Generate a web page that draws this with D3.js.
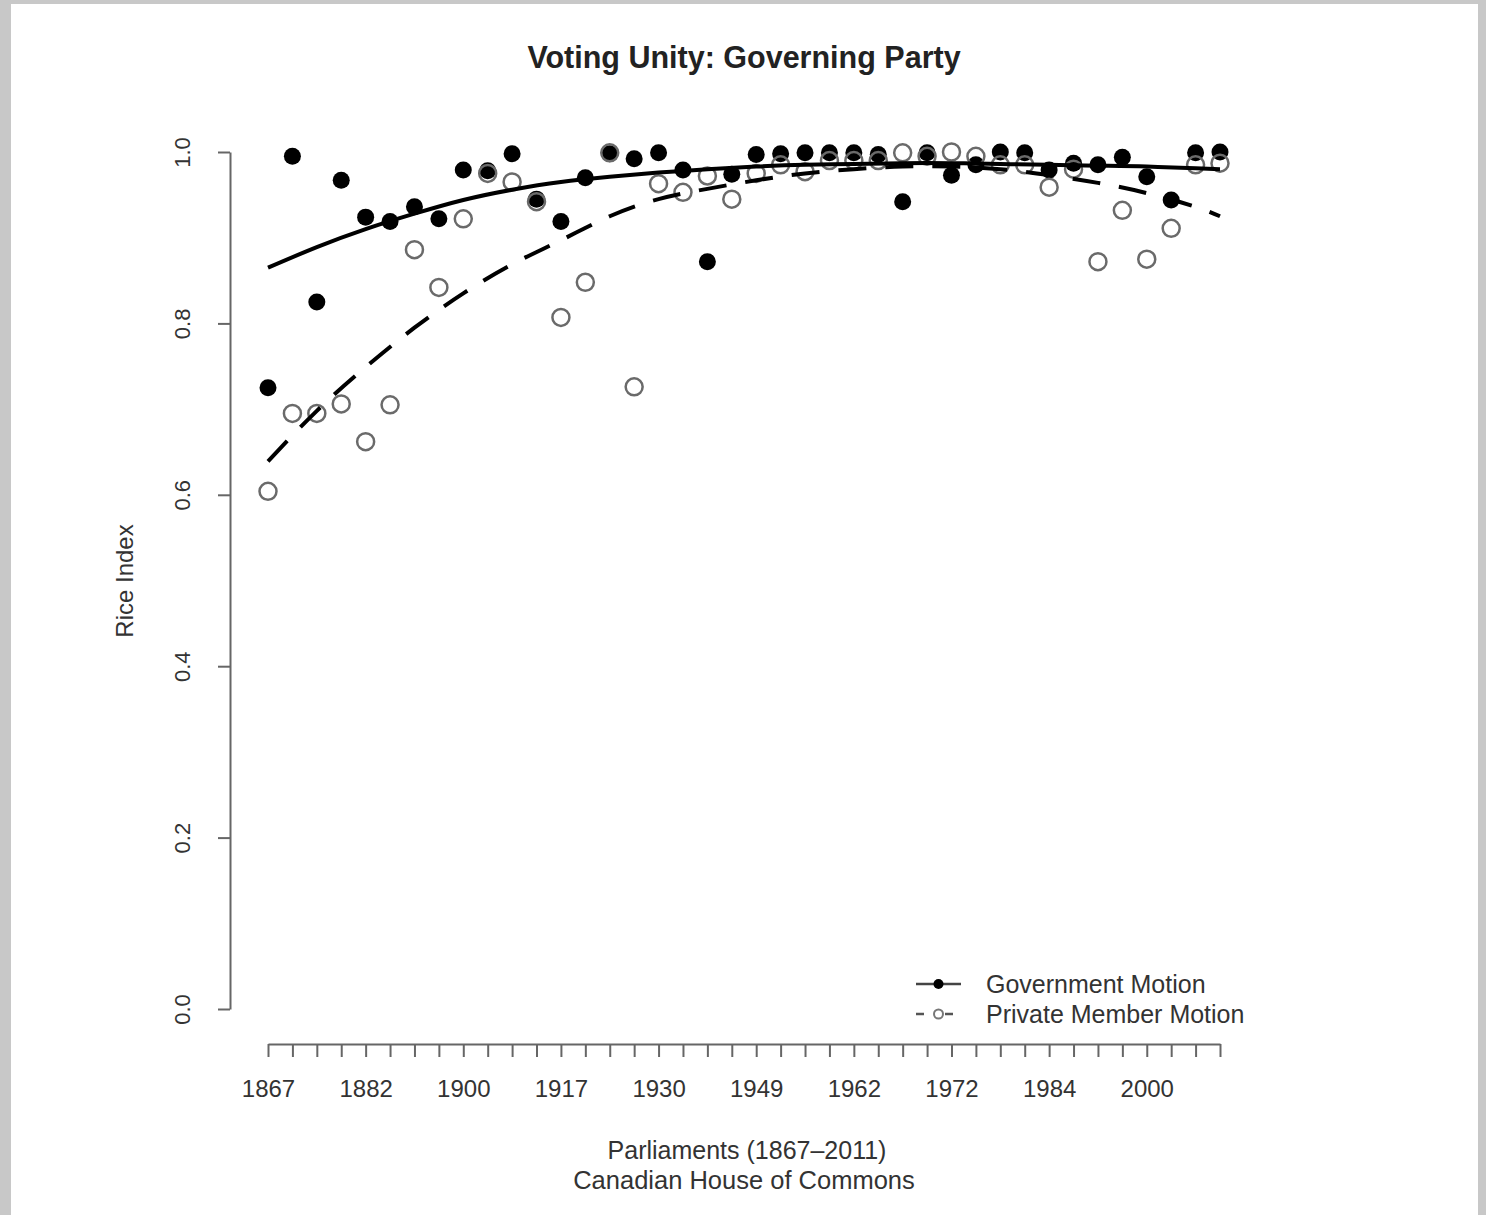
<!DOCTYPE html>
<html>
<head>
<meta charset="utf-8">
<script src="https://cdn.jsdelivr.net/npm/d3@7"></script>
<style>
  body { margin: 0; background: #c8c8c8; }
  svg { display: block; font-family: "Liberation Sans", Arial, sans-serif; }
</style>
</head>
<body>
<svg width="1486" height="1215"></svg>
<script>
// parliaments 1..40, labelled every 4th
const parliaments = d3.range(1, 41);
const tickYears = ["1867", "1882", "1900", "1917", "1930", "1949", "1962", "1972", "1984", "2000"];
const yTicks = [0, 0.2, 0.4, 0.6, 0.8, 1.0];

// Rice index, government motions (filled dots)
const govRice = [0.725, 0.995, 0.825, 0.967, 0.924, 0.919, 0.936, 0.922, 0.979, 0.978,
                 0.998, 0.945, 0.919, 0.970, 0.998, 0.992, 0.999, 0.979, 0.872, 0.974,
                 0.997, 0.998, 0.999, 0.999, 0.999, 0.997, 0.942, 0.999, 0.973, 0.985,
                 1.000, 0.999, 0.979, 0.987, 0.985, 0.994, 0.971, 0.944, 0.999, 1.000];

// Rice index, private member motions (open circles)
const pmRice = [0.604, 0.695, 0.695, 0.706, 0.662, 0.705, 0.886, 0.842, 0.922, 0.975,
                0.965, 0.942, 0.807, 0.848, 0.999, 0.726, 0.963, 0.953, 0.972, 0.945,
                0.975, 0.985, 0.977, 0.990, 0.990, 0.990, 0.999, 0.995, 1.000, 0.995,
                0.985, 0.985, 0.959, 0.980, 0.872, 0.932, 0.875, 0.911, 0.985, 0.987];

// smoothed trend lines
const fitAt = [1, 3, 5, 7, 9, 11, 13, 15, 17, 19, 21, 23, 25, 27, 29, 31, 33, 35, 37, 39, 40];
const govFit = [0.865, 0.889, 0.910, 0.928, 0.944, 0.956, 0.965, 0.971, 0.976, 0.980, 0.983,
                0.985, 0.986, 0.987, 0.987, 0.986, 0.985, 0.984, 0.983, 0.981, 0.980];
const pmFit = [0.639, 0.698, 0.749, 0.795, 0.835, 0.869, 0.897, 0.925, 0.945, 0.957, 0.967,
               0.975, 0.980, 0.983, 0.983, 0.980, 0.973, 0.964, 0.952, 0.936, 0.925];

const legendItems = ["Government Motion", "Private Member Motion"];

const svg = d3.select("svg");

// frame
svg.append("rect").attr("x", 11).attr("y", 4).attr("width", 1467).attr("height", 1211).attr("fill", "#fff");

const x = d3.scaleLinear().domain([1, 40]).range([268, 1220]);
const y = d3.scaleLinear().domain([0, 1]).range([1009, 152]);

const axisColor = "#666";
const textColor = "#333";

// y axis
const yAxis = svg.append("g")
    .attr("transform", "translate(230,0)")
    .call(d3.axisLeft(y).tickValues(yTicks).tickFormat(d3.format(".1f")).tickSize(12).tickSizeOuter(0));
yAxis.select(".domain").attr("stroke", axisColor).attr("stroke-width", 2);
yAxis.selectAll(".tick line").attr("stroke", axisColor).attr("stroke-width", 2);
yAxis.selectAll(".tick text")
    .attr("x", null).attr("dy", null)
    .attr("transform", "translate(-40,0) rotate(-90)")
    .attr("text-anchor", "middle")
    .style("font-size", "22px")
    .attr("fill", textColor);

// x axis
const labelFor = p => (p - 1) % 4 === 0 ? tickYears[(p - 1) / 4] || "" : "";
const xAxis = svg.append("g")
    .attr("transform", "translate(0,1044)")
    .call(d3.axisBottom(x).tickValues(parliaments).tickFormat(labelFor).tickSize(13).tickSizeOuter(0).tickPadding(23));
xAxis.select(".domain").attr("stroke", axisColor).attr("stroke-width", 2);
xAxis.selectAll(".tick line").attr("stroke", axisColor).attr("stroke-width", 2);
xAxis.selectAll(".tick text")
    .style("font-size", "24px")
    .attr("fill", textColor);

// axis titles
svg.append("text")
    .attr("transform", "translate(133,581) rotate(-90)")
    .attr("text-anchor", "middle")
    .style("font-size", "24px")
    .attr("fill", textColor)
    .text("Rice Index");

svg.append("text")
    .attr("x", 747).attr("y", 1159)
    .attr("text-anchor", "middle")
    .style("font-size", "25px")
    .attr("fill", textColor)
    .text("Parliaments (1867\u20132011)");

svg.append("text")
    .attr("x", 744).attr("y", 1189)
    .attr("text-anchor", "middle")
    .style("font-size", "25.5px")
    .attr("fill", textColor)
    .text("Canadian House of Commons");

svg.append("text")
    .attr("x", 744).attr("y", 68)
    .attr("text-anchor", "middle")
    .style("font-size", "30.5px")
    .style("font-weight", "bold")
    .attr("fill", "#222")
    .text("Voting Unity: Governing Party");

// points
svg.append("g").selectAll("circle")
    .data(govRice)
    .join("circle")
    .attr("cx", (d, i) => x(parliaments[i]))
    .attr("cy", d => y(d))
    .attr("r", 8.5)
    .attr("fill", "#000");

svg.append("g").selectAll("circle")
    .data(pmRice)
    .join("circle")
    .attr("cx", (d, i) => x(parliaments[i]))
    .attr("cy", d => y(d))
    .attr("r", 8.5)
    .attr("fill", "none")
    .attr("stroke", "#6a6a6a")
    .attr("stroke-width", 2.5);

// trend lines
const line = d3.line()
    .x((d, i) => x(fitAt[i]))
    .y(d => y(d))
    .curve(d3.curveNatural);

svg.append("path")
    .attr("d", line(govFit))
    .attr("fill", "none")
    .attr("stroke", "#000")
    .attr("stroke-width", 4);

svg.append("path")
    .attr("d", line(pmFit))
    .attr("fill", "none")
    .attr("stroke", "#000")
    .attr("stroke-width", 4)
    .attr("stroke-dasharray", "28,19");

// legend
const legend = svg.append("g").attr("transform", "translate(916,984)");

legend.append("line")
    .attr("x1", 0).attr("x2", 45).attr("y1", 0).attr("y2", 0)
    .attr("stroke", "#444").attr("stroke-width", 2.5);
legend.append("circle")
    .attr("cx", 22.5).attr("cy", 0).attr("r", 5).attr("fill", "#000");

legend.append("line")
    .attr("x1", 0).attr("x2", 45).attr("y1", 30).attr("y2", 30)
    .attr("stroke", "#555").attr("stroke-width", 2.5)
    .attr("stroke-dasharray", "8,8,0,13,8");
legend.append("circle")
    .attr("cx", 22.5).attr("cy", 30).attr("r", 4.5)
    .attr("fill", "#fff").attr("stroke", "#777").attr("stroke-width", 2);

legend.selectAll("text.item")
    .data(legendItems)
    .join("text")
    .attr("class", "item")
    .attr("x", 70)
    .attr("y", (d, i) => i * 30 + 9)
    .style("font-size", "25px")
    .attr("fill", textColor)
    .text(d => d);
</script>
</body>
</html>
